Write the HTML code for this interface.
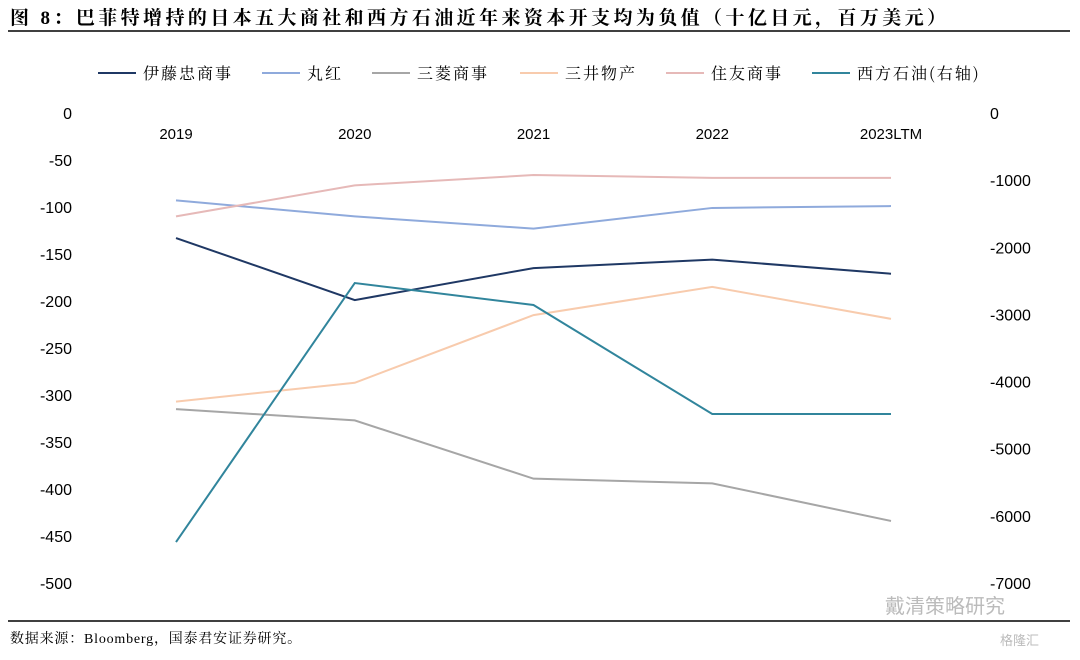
<!DOCTYPE html>
<html><head><meta charset="utf-8"><style>
body{margin:0;background:#fff;width:1080px;height:655px;overflow:hidden;font-family:"Liberation Sans","Noto Serif CJK SC","Noto Sans CJK SC",sans-serif}
</style></head><body>
<svg id="c" width="1080" height="655" font-family="Liberation Sans, Noto Sans CJK SC, sans-serif">
<text x="10" y="24" font-size="19" font-weight="bold" letter-spacing="3.4" font-family="Liberation Serif, Noto Serif CJK SC, serif" fill="#000">图  8：巴菲特增持的日本五大商社和西方石油近年来资本开支均为负值（十亿日元，百万美元）</text>
<line x1="8" y1="31" x2="1070" y2="31" stroke="#000" stroke-width="1.5"/>
<line x1="8" y1="621" x2="1070" y2="621" stroke="#000" stroke-width="1.5"/>
<text x="10" y="643" font-size="14" letter-spacing="0.8" font-family="Liberation Serif, Noto Serif CJK SC, serif">数据来源：Bloomberg，国泰君安证券研究。</text>
<text x="885" y="613" font-size="20" fill="#bbb">戴清策略研究</text>
<text x="1000" y="645" font-size="13" fill="#bbb">格隆汇</text>
<g id="g"></g>
</svg>
<script>
const categories=["2019","2020","2021","2022","2023LTM"];
const names=["伊藤忠商事","丸红","三菱商事","三井物产","住友商事","西方石油(右轴)"];
const itochu=[-133,-199,-165,-156,-171];
const marubeni=[-93,-110,-123,-101,-99];
const mitsubishi=[-315,-327,-389,-394,-434];
const mitsui=[-307,-287,-215,-185,-219];
const sumitomo=[-110,-77,-66,-69,-69];
const oxy=[-6390,-2532,-2860,-4483,-4483];
const leftTicks=[0,-50,-100,-150,-200,-250,-300,-350,-400,-450,-500];
const rightTicks=[0,-1000,-2000,-3000,-4000,-5000,-6000,-7000];
const colors=["#1f3864","#8faadc","#a6a6a6","#f8cbad","#e6b9b8","#31859c"];
const NS="http://www.w3.org/2000/svg";
const g=document.getElementById("g");
const top0=113,bot=583;
const yL=v=>top0+(0-v)/500*(bot-top0);
const yR=v=>top0+(0-v)/7000*(bot-top0);
const xS=i=>176+i*178.75;
function el(t,a,txt){const e=document.createElementNS(NS,t);for(const k in a)e.setAttribute(k,a[k]);if(txt!=null)e.textContent=txt;g.appendChild(e);return e;}
leftTicks.forEach(v=>{const t=el("text",{x:72,y:yL(v)+6,"text-anchor":"end","font-size":16},v);

});
rightTicks.forEach(v=>{const t=el("text",{x:990,y:yR(v)+6,"font-size":16},v);

});
categories.forEach((c,i)=>{const t=el("text",{x:xS(i),y:139,"text-anchor":"middle","font-size":15},c);

});
const series=[itochu,marubeni,mitsubishi,mitsui,sumitomo];
series.forEach((s,k)=>{const p=el("polyline",{points:s.map((v,i)=>xS(i)+","+yL(v)).join(" "),fill:"none",stroke:colors[k],"stroke-width":2});

});
const po=el("polyline",{points:oxy.map((v,i)=>xS(i)+","+yR(v)).join(" "),fill:"none",stroke:colors[5],"stroke-width":2});


const lx=[98,262,372,520,666,812];
names.forEach((n,k)=>{
const l=el("line",{x1:lx[k],y1:73,x2:lx[k]+38,y2:73,stroke:colors[k],"stroke-width":2});


const t=el("text",{x:lx[k]+45,y:79,"font-size":16,"letter-spacing":2,"font-family":"Noto Serif CJK SC, serif"},n);


});
</script>
</body></html>
